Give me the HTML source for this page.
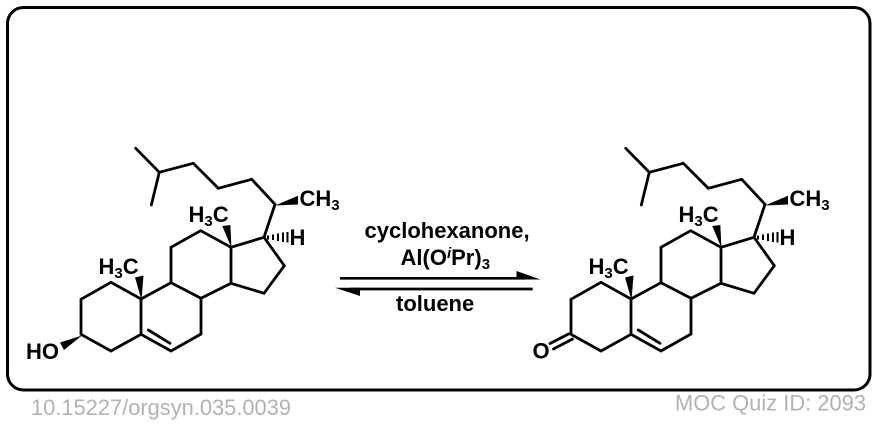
<!DOCTYPE html>
<html>
<head>
<meta charset="utf-8">
<style>
html,body{margin:0;padding:0;background:#fff;width:878px;height:424px;overflow:hidden}
svg{display:block}
text{font-family:"Liberation Sans",Arial,sans-serif}
.b{font-weight:bold;font-size:22px;fill:#000}
.l{fill:none;stroke:#000;stroke-width:2.8;stroke-linejoin:miter;stroke-linecap:round}
.g{font-size:22px;fill:#b0b3b5}
</style>
</head>
<body>
<svg width="878" height="424" viewBox="0 0 878 424" xmlns="http://www.w3.org/2000/svg">
<rect x="7.5" y="7.5" width="862.5" height="382.5" rx="16" ry="16" fill="#fff" stroke="#000" stroke-width="3"/>

<!-- left molecule -->
<g>
<path class="l" d="M135.7 148.3L159.3 172.3L151.3 205M159.3 172.3L193.3 163.3L218.3 188.3L251.7 179.3L275 204.3L264 237.3L284.3 265.7L264 293.3L231 283.3L231 247.3L264 237.3M231 247.3L200.7 230.7L171 247.3L171 282.7L201 298.3L231 283.3M171 282.7L141 299L111 282.3L81 299.3L81 334.3L111 351L141 334.3L141 299M141 334.3L171 351L201 334L201 298.3M148.3 330L170 343.3"/>
<polygon points="275,205.5 298,195.8 298,204.5" fill="#000"/>
<polygon points="231.5,248 222.3,226 230.3,225" fill="#000"/>
<polygon points="141.5,300 135,277.5 143.5,275.5" fill="#000"/>
<polygon points="82,335.5 60,342.5 64,350" fill="#000"/>
<path d="M268 235.5V239.5M273 234.5V240M278 233.5V241M283 232.5V242M287.5 232V242.5" stroke="#000" stroke-width="2" fill="none"/>
<text class="b" x="188.5" y="222">H<tspan font-size="15" dy="4">3</tspan><tspan dy="-4">C</tspan></text>
<text class="b" x="98.5" y="274">H<tspan font-size="15" dy="4">3</tspan><tspan dy="-4">C</tspan></text>
<text class="b" x="299.5" y="206">CH<tspan font-size="15" dy="4">3</tspan></text>
<text class="b" x="289.5" y="245">H</text>
<text class="b" x="26" y="359">HO</text>
</g>

<!-- right molecule -->
<g>
<path class="l" d="M625.7 148.3L649.3 172.3L641.3 205M649.3 172.3L683.3 163.3L708.3 188.3L741.7 179.3L765 204.3L754 237.3L774.3 265.7L754 293.3L721 283.3L721 247.3L754 237.3M721 247.3L690.7 230.7L661 247.3L661 282.7L691 298.3L721 283.3M661 282.7L631 299L601 282.3L571 299.3L571 334.3L601 351L631 334.3L631 299M631 334.3L661 351L691 334L691 298.3M638.3 330L660 343.3"/>
<path class="l" d="M568.5 334L550 343.5M572.5 339L553.5 349"/>
<polygon points="765,205.5 788,195.8 788,204.5" fill="#000"/>
<polygon points="721.5,248 712.3,226 720.3,225" fill="#000"/>
<polygon points="631.5,300 625,277.5 633.5,275.5" fill="#000"/>
<path d="M758 235.5V239.5M763 234.5V240M768 233.5V241M773 232.5V242M777.5 232V242.5" stroke="#000" stroke-width="2" fill="none"/>
<text class="b" x="678.5" y="222">H<tspan font-size="15" dy="4">3</tspan><tspan dy="-4">C</tspan></text>
<text class="b" x="588.5" y="274">H<tspan font-size="15" dy="4">3</tspan><tspan dy="-4">C</tspan></text>
<text class="b" x="789.5" y="206">CH<tspan font-size="15" dy="4">3</tspan></text>
<text class="b" x="779.5" y="245">H</text>
<text class="b" x="532.5" y="358.5">O</text>
</g>

<!-- arrows -->
<path d="M340 278.3H525M532.7 289H350" stroke="#000" stroke-width="2.7" fill="none"/>
<polygon points="516.5,271 540.5,279.5 516.5,279.5" fill="#000"/>
<polygon points="335,287.8 360,287.8 360,296" fill="#000"/>

<!-- reagent labels -->
<text class="b" x="364.5" y="238">cyclohexanone,</text>
<text class="b" x="400.5" y="265">Al(O<tspan font-style="italic" font-size="15" dy="-7">i</tspan><tspan dy="7">Pr)</tspan><tspan font-size="15" dy="4">3</tspan></text>
<text class="b" x="396" y="311">toluene</text>

<!-- footer -->
<text class="g" x="31" y="415" textLength="260" lengthAdjust="spacingAndGlyphs">10.15227/orgsyn.035.0039</text>
<text class="g" x="675" y="410.5" textLength="191" lengthAdjust="spacingAndGlyphs">MOC Quiz ID: 2093</text>
</svg>
</body>
</html>
